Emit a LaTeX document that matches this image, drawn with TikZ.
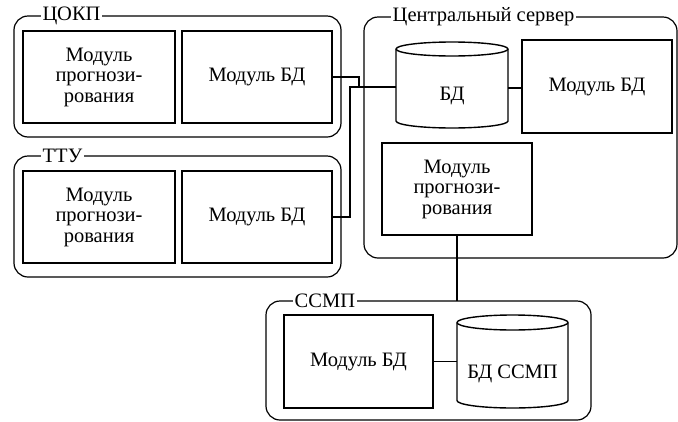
\documentclass[tikz,border=0pt]{standalone}
\usepackage{fontspec}
\setmainfont{Liberation Serif}
\newfontfamily\tnr{Liberation Serif}
\begin{document}
\begin{tikzpicture}[x=1pt,y=-1pt,
  box/.style={draw, line width=1.4pt, inner sep=0pt, align=center,
    minimum width=150pt, minimum height=92pt, font=\tnr\fontsize{20.5}{20.5}\selectfont},
  grp/.style={draw, line width=1.2pt, rounded corners=14pt},
  glabel/.style={fill=white, inner xsep=1.5pt, inner ysep=0pt, anchor=west,
    font=\tnr\fontsize{20.5}{20.5}\selectfont},
  cylline/.style={draw, line width=1.4pt},
  cylarea/.style={inner sep=0pt},
  cyltext/.style={inner sep=0pt, font=\tnr\fontsize{20.5}{20.5}\selectfont},
  wire/.style={line width=1.1pt}]
\useasboundingbox (0,0) rectangle (678,421);

% groups
\draw[grp] (14,16) rectangle (341,137);
\draw[grp] (14,156) rectangle (341,277);
\draw[grp] (364,17) rectangle (677,258);
\draw[grp] (266,301) rectangle (591,420);

\node[glabel] (lc) at (41,16) {ЦОКП};
\node[glabel] (lt) at (41,156) {ТТУ};
\node[glabel] (ls) at (391,17) {Центральный сервер};
\node[glabel] (lm) at (293,301) {ССМП};

% ЦОКП
\node[box, minimum width=152pt] (c1) at (99,77) {Модуль\\прогнози-\\рования};
\node[box] (c2) at (257,77) {Модуль БД};
% ТТУ
\node[box, minimum width=152pt] (t1) at (99,217) {Модуль\\прогнози-\\рования};
\node[box] (t2) at (257,217) {Модуль БД};

% central server
\draw[cylline] (396,49) -- (396,121)
  arc[start angle=180, end angle=360, x radius=56pt, y radius=7pt]
  -- (508,49)
  arc[start angle=0, end angle=180, x radius=56pt, y radius=7pt] -- cycle;
\draw[cylline] (396,49) arc[start angle=180, end angle=360, x radius=56pt, y radius=7pt];
\node[cylarea, minimum width=112pt, minimum height=86pt] (bd) at (452,85) {};
\node[cyltext] (bdt) at (452,96) {БД};

\node[box, minimum height=93pt] (sm) at (597,86.5) {Модуль БД};
\node[box] (sp) at (457,189) {Модуль\\прогнози-\\рования};

% ССМП
\node[box, minimum width=149pt, minimum height=93pt] (mm) at (358.5,361.5) {Модуль БД};
\draw[cylline] (457,322.5) -- (457,400.5)
  arc[start angle=180, end angle=360, x radius=55.5pt, y radius=7.5pt]
  -- (568,322.5)
  arc[start angle=0, end angle=180, x radius=55.5pt, y radius=7.5pt] -- cycle;
\draw[cylline] (457,322.5) arc[start angle=180, end angle=360, x radius=55.5pt, y radius=7.5pt];
\node[cylarea, minimum width=111pt, minimum height=93pt] (db2) at (512.5,361.5) {};
\node[cyltext] (db2t) at (512.5,374) {БД ССМП};

% connectors
\coordinate (jA) at (359,87);
\coordinate (jB) at (350,87);
\coordinate (mtop) at (457,301);
\draw[wire] (c2.east) -| (jA) -- (bd.west |- jA);
\draw[wire] (t2.east) -| (jB) -- (bd.west |- jB);
\draw[wire] (bd.east |- 0,88) -- (sm.west |- 0,88);
\draw[wire] (sp.south) -- (mtop);
\draw[wire] (mm.east) -- (db2.west |- mm.east);
\end{tikzpicture}
\end{document}
